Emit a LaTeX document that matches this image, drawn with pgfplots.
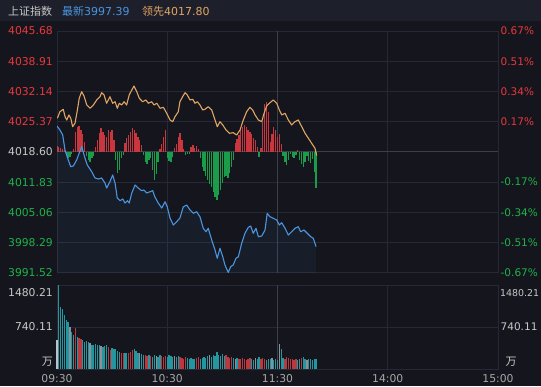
\documentclass[border=0pt]{standalone}
\usepackage{pgfplots}
\pgfplotsset{compat=1.18}
\usepackage{fontspec}
\setmainfont{DejaVu Sans}
\newfontfamily\cjk{Noto Sans CJK SC}
\definecolor{bg}{HTML}{14151D}
\definecolor{hdr}{HTML}{1D1F2A}
\definecolor{gridc}{HTML}{262833}
\definecolor{sepc}{HTML}{3C3E4A}
\definecolor{upc}{HTML}{E8383D}
\definecolor{dnc}{HTML}{1FB24A}
\definecolor{lblc}{HTML}{C8C8C8}
\definecolor{xlbl}{HTML}{A8A8A8}
\definecolor{bluec}{HTML}{4A95E0}
\definecolor{orgc}{HTML}{E2A664}
\definecolor{redbar}{HTML}{C8373D}
\definecolor{grnbar}{HTML}{1A9C4A}
\definecolor{volteal}{HTML}{2496A0}
\definecolor{volred}{HTML}{B83A40}
\definecolor{volgray}{HTML}{8E9098}
\definecolor{volpale}{HTML}{B8C4CC}

\pgfplotstableread{
m p
0 4024.40
1.6 4023.51
3.1 4022.39
4.35 4019.03
6.15 4016.79
7.46 4015.28
8.87 4015.44
10.7 4016.79
12.1 4018.35
13.5 4019.76
15.2 4017.23
16.5 4015.67
18.9 4014.16
20.7 4012.75
22.5 4012.53
24.3 4012.75
26.1 4011.63
27.0 4010.51
28.8 4011.92
30.3 4013.43
31.6 4011.63
32.8 4008.27
34.3 4007.67
35.8 4008.05
37.0 4007.15
38.3 4007.67
39.3 4007.15
40.7 4009.39
42.5 4011.19
44.2 4010.51
46.1 4009.91
47.3 4010.07
48.8 4009.39
50.6 4009.68
52.1 4009.91
53.3 4008.50
55.1 4007.15
57.0 4006.03
58.8 4007.44
60.0 4006.32
61.5 4003.79
63.3 4002.23
65.1 4002.96
66.9 4003.79
68.7 4006.27
70.6 4006.71
72.4 4005.59
74.2 4004.85
76.0 4005.20
77.8 4004.08
79.6 4001.49
81.1 4000.72
82.3 4001.49
84.2 3998.87
86.0 3996.63
87.2 3994.77
88.7 3997.01
90.2 3995.13
91.4 3993.27
93.2 3991.60
94.5 3992.88
95.9 3993.27
97.4 3994.77
98.7 3995.12
100.5 3998.13
102.3 4000.37
104.1 4001.71
105.4 4002.00
106.8 4000.37
108.3 4001.49
109.6 3999.60
111.4 3999.76
113.2 4001.11
114.4 4004.85
115.9 4004.08
117.7 4003.73
119.6 4003.35
121.0 4002.23
122.3 4002.74
124.1 4001.49
125.9 3999.99
127.7 4000.72
129.5 4001.49
131.3 4001.84
132.6 4000.72
134.4 4001.11
136.2 4000.37
138.1 3999.60
139.5 3999.25
141.0 3997.39
}\bluetab

\pgfplotstableread{
m p
0.2 4026.13
1.6 4027.60
3.4 4028.14
4.4 4026.48
5.3 4025.75
6.5 4026.87
7.5 4026.13
8.5 4024.24
9.8 4025.01
11.1 4027.99
12.1 4030.61
13.4 4032.08
14.7 4031.12
16.2 4029.11
18.0 4028.37
19.8 4029.11
21.6 4030.23
23.4 4030.96
24.3 4031.86
25.6 4031.35
27.0 4029.49
28.8 4030.96
30.3 4029.49
31.6 4029.84
32.8 4028.37
33.9 4029.49
35.2 4029.11
36.5 4029.84
37.9 4029.11
39.3 4031.35
40.7 4032.47
41.9 4033.36
43.4 4032.08
44.8 4030.61
46.6 4029.84
48.4 4030.23
49.7 4029.49
51.5 4029.84
52.8 4029.11
54.3 4029.49
56.1 4028.37
57.9 4028.59
59.7 4027.25
61.5 4025.75
63.0 4025.36
64.2 4026.48
66.0 4027.60
66.9 4029.84
68.4 4031.00
69.7 4031.86
70.9 4031.35
72.4 4030.23
73.9 4030.38
75.1 4029.49
76.4 4029.84
77.8 4029.11
79.3 4027.99
80.5 4028.14
82.3 4028.72
84.2 4027.99
86.0 4025.75
87.2 4024.24
88.7 4025.36
90.2 4024.63
92.0 4023.51
93.8 4022.77
95.9 4022.90
97.8 4022.39
99.6 4023.51
101.4 4025.75
103.2 4027.60
105.0 4028.59
106.5 4027.99
107.8 4026.87
109.6 4025.75
111.4 4025.36
112.7 4027.25
114.1 4028.88
115.9 4029.62
117.7 4030.23
119.6 4029.49
121.0 4027.99
122.3 4026.87
124.1 4027.25
125.9 4025.75
127.7 4024.63
129.5 4025.36
131.3 4025.75
133.2 4024.24
135.0 4022.77
136.8 4021.65
138.6 4020.53
140.4 4019.41
141.3 4017.80
}\orgtab

\pgfplotsset{
  panel/.style={scale only axis, width=441pt, xmin=0, xmax=240, anchor=south west,
    axis line style={gridc, line width=0.8pt}, tick style={draw=none},
    major grid style={gridc, line width=0.8pt},
    every tick label/.append style={font=\fontsize{10.8}{12}\selectfont}},
  overlay/.style={scale only axis, width=441pt, xmin=0, xmax=240, anchor=south west,
    axis lines=none, xtick=\empty, ytick=\empty}
}

\begin{document}
\begin{tikzpicture}[x=1pt,y=1pt]
\useasboundingbox (0,0) rectangle (541,386);
\clip (0,0) rectangle (541,386);
\fill[bg] (0,0) rectangle (541,386);
\fill[hdr] (0,365) rectangle (541,386);
\node[anchor=base west, inner sep=0pt, text=lblc, font=\cjk\fontsize{11}{13}\selectfont] at (8,370) {上证指数};
\node[anchor=base west, inner sep=0pt, text=bluec, font=\fontsize{11}{13}\selectfont] at (62,370) {{\cjk 最新}3997.39};
\node[anchor=base west, inner sep=0pt, text=orgc, font=\fontsize{11}{13}\selectfont] at (142,370) {{\cjk 领先}4017.80};

% main price panel: grid and labels
\begin{axis}[panel, at={(57pt,113.2pt)}, height=241.8pt,
  ymin=3991.52, ymax=4045.68, clip=false,
  xtick={60,180}, xticklabels={},
  extra x ticks={120}, extra x tick labels={},
  extra x tick style={grid=major, major grid style={sepc, line width=1.6pt}},
  ytick={3991.52,3998.29,4005.06,4011.83,4025.37,4032.14,4038.91,4045.68},
  yticklabels={\textcolor{dnc}{3991.52},\textcolor{dnc}{3998.29},\textcolor{dnc}{4005.06},\textcolor{dnc}{4011.83},\textcolor{upc}{4025.37},\textcolor{upc}{4032.14},\textcolor{upc}{4038.91},\textcolor{upc}{4045.68}},
  extra y ticks={4018.60}, extra y tick labels={\textcolor{lblc}{4018.60}},
  extra y tick style={grid=major, major grid style={sepc, line width=1pt}},
  grid=major,
  yticklabel style={anchor=east, inner sep=0pt, xshift=-4pt},
]
\addplot[draw=none, forget plot] coordinates {(0,4018.60)};
\foreach \v/\t/\c in {4045.68/0.67/upc, 4038.91/0.51/upc, 4032.14/0.34/upc, 4025.37/0.17/upc, 4011.83/-0.17/dnc, 4005.06/-0.34/dnc, 3998.29/-0.51/dnc, 3991.52/-0.67/dnc}{
  \edef\temp{\noexpand\node[anchor=west, inner sep=0pt, xshift=2.5pt, text=\c, font=\noexpand\fontsize{10.5}{12}\noexpand\selectfont] at (axis cs:240,\v) {\t\noexpand\%};}
  \temp
}
\end{axis}

% red / green strength bars
\begin{axis}[overlay, at={(57pt,113.2pt)}, height=241.8pt, ymin=-120.9, ymax=120.9]
\addplot[ycomb, draw=redbar, line width=1.3pt, no marks] coordinates {
(0,6)(1,5)(2,4)(3,3)(4,2)(9,3)(10,20)(11,25)(12,26)(13,22)(14,18)(15,10)(21,5)(22,12)(23,19)(24,24)(25,20)(26,17)(27,15)(28,22)(29,20)(30,22)(31,12)(37,9)(38,14)(39,17)(40,20)(41,24)(42,22)(43,19)(44,15)(45,12)(46,7)(56,3)(57,8)(58,15)(59,22)(64,4)(65,8)(66,15)(67,19)(68,12)(69,3)(73,5)(74,7)(75,4)(76,6)(77,3)(97,9)(98,13)(99,17)(100,22)(101,25)(102,27)(103,25)(104,22)(105,20)(106,18)(107,14)(108,12)(109,5)(111,4)(112,30)(113,48)(114,50)(115,40)(116,10)(117,18)(118,25)(119,22)(120,15)(121,18)(122,8)(131,2)};
\addplot[ycomb, draw=grnbar, line width=1.3pt, no marks] coordinates {
(5,-3)(6,-6)(7,-5)(8,-2)(16,-4)(17,-8)(18,-10)(19,-6)(20,-4)(32,-8)(33,-21)(34,-18)(35,-6)(36,-3)(47,-3)(48,-10)(49,-12)(50,-8)(51,-6)(52,-18)(53,-28)(54,-22)(55,-10)(60,-6)(61,-9)(62,-10)(63,-5)(70,-3)(71,-2)(72,-2)(78,-6)(79,-15)(80,-19)(81,-24)(82,-28)(83,-32)(84,-35)(85,-40)(86,-45)(87,-48)(88,-43)(89,-38)(90,-31)(91,-25)(92,-24)(93,-26)(94,-21)(95,-15)(96,-8)(110,-5)(123,-4)(124,-10)(125,-13)(126,-8)(127,-2)(128,-5)(129,-6)(130,-3)(132,-8)(133,-12)(134,-15)(135,-10)(136,-4)(137,-9)(138,-11)(139,-7)(140,-20)(141,-36)};
\end{axis}

% price lines
\begin{axis}[overlay, at={(57pt,113.2pt)}, height=241.8pt, ymin=3991.52, ymax=4045.68]
\addplot[draw=none, fill=bluec, fill opacity=0.07] table[x=m,y=p]{\bluetab} \closedcycle;
\addplot[bluec, line width=1.1pt, no marks, line join=round] table[x=m,y=p]{\bluetab};
\addplot[orgc, line width=1.1pt, no marks, line join=round] table[x=m,y=p]{\orgtab};
\end{axis}

% volume panel
\begin{axis}[panel, at={(57pt,17pt)}, height=84pt, ymin=0, ymax=1480.21, clip=false,
  xtick={0,60,180,240}, xticklabels={09:30,10:30,14:00,15:00},
  extra x ticks={120}, extra x tick labels={11:30},
  extra x tick style={grid=major, major grid style={sepc, line width=1.6pt}},
  ytick={740.11}, yticklabels={}, grid=major,
  xticklabel style={anchor=base, inner sep=0pt, yshift=-13.5pt, text=xlbl},
]
\addplot[ycomb, draw=volpale, line width=1.3pt, no marks] coordinates {(0,510)};
\addplot[ycomb, draw=volteal, line width=1.3pt, no marks] coordinates {
(1,1480)(2,1094)(3,1057)(4,951)(5,863)(6,834)(8,658)(9,600)(11,570)(14,511)(15,482)(16,494)(17,470)(19,430)(20,423)(21,440)(22,430)(23,423)(25,382)(26,410)(27,423)(30,364)(31,350)(32,347)(33,320)(34,305)(37,276)(38,280)(42,347)(43,320)(44,288)(46,260)(47,247)(50,247)(52,220)(53,247)(55,215)(56,240)(60,220)(61,245)(62,230)(63,210)(65,215)(66,235)(71,190)(72,175)(73,200)(74,185)(75,170)(78,180)(79,200)(80,215)(81,190)(82,230)(84,220)(85,250)(86,235)(87,305)(88,240)(89,225)(90,260)(91,230)(96,190)(98,200)(106,175)(107,160)(109,170)(110,210)(114,160)(115,180)(116,170)(118,165)(119,175)(120,160)(122,352)(123,200)(131,160)(132,180)(134,210)(135,175)(137,185)(138,170)(139,165)(140,180)(141,175)};
\addplot[ycomb, draw=volred, line width=1.3pt, no marks] coordinates {
(10,720)(12,546)(13,520)(28,390)(29,335)(35,290)(36,288)(39,290)(40,305)(41,335)(48,240)(49,230)(51,235)(57,225)(58,210)(59,235)(67,220)(68,200)(69,180)(70,210)(76,195)(77,210)(92,245)(93,215)(94,200)(95,220)(99,185)(100,170)(101,190)(102,180)(103,165)(104,185)(105,200)(111,185)(112,195)(113,175)(124,180)(125,210)(126,190)(127,170)(128,185)(129,165)(130,175)(133,190)};
\addplot[ycomb, draw=volgray, line width=1.3pt, no marks] coordinates {
(7,746)(18,452)(24,400)(45,276)(54,230)(64,225)(83,240)(97,175)(108,190)(117,190)(121,440)(136,160)};
\node[anchor=east, inner sep=0pt, xshift=-4pt, yshift=-7.7pt, text=lblc, font=\fontsize{10.8}{12}\selectfont] at (rel axis cs:0,1) {1480.21};
\node[anchor=east, inner sep=0pt, xshift=-4pt, text=lblc, font=\fontsize{10.8}{12}\selectfont] at (rel axis cs:0,0.5) {740.11};
\node[anchor=east, inner sep=0pt, xshift=-4pt, yshift=7.3pt, text=lblc, font=\cjk\fontsize{11}{13}\selectfont] at (rel axis cs:0,0) {万};
\node[anchor=west, inner sep=0pt, xshift=2pt, yshift=-7.7pt, text=lblc, font=\fontsize{9.4}{11}\selectfont] at (rel axis cs:1,1) {1480.21};
\node[anchor=west, inner sep=0pt, xshift=2.5pt, text=lblc, font=\fontsize{10.5}{12}\selectfont] at (rel axis cs:1,0.5) {740.11};
\node[anchor=west, inner sep=0pt, xshift=7.5pt, yshift=7.3pt, text=lblc, font=\cjk\fontsize{11}{13}\selectfont] at (rel axis cs:1,0) {万};
\end{axis}
\end{tikzpicture}
\end{document}
